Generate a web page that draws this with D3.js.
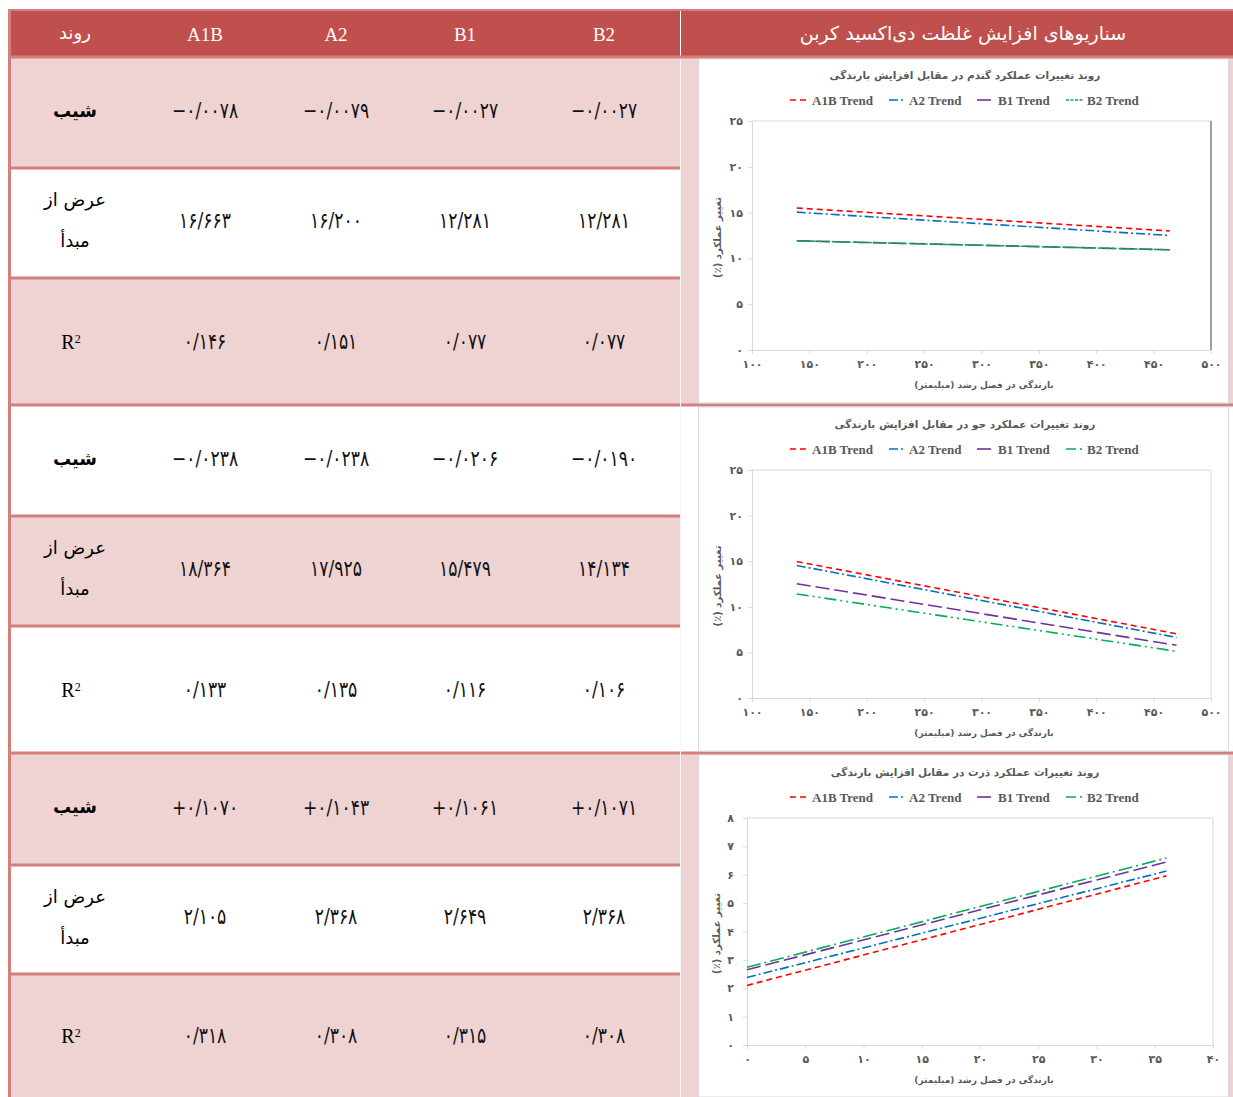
<!DOCTYPE html>
<html>
<head>
<meta charset="utf-8">
<script src="https://cdn.jsdelivr.net/npm/d3@7"></script>
<style>
body { margin: 0; background: #fff; }
svg { display: block; }
</style>
</head>
<body>
<svg width="1233" height="1097"></svg>
<script>
// ---- data ----
var scenarios = ["A1B", "A2", "B1", "B2"];
var rowNames = ["شیب", "عرض از", "R"];

var wheatSlope = ["−۰/۰۰۷۸", "−۰/۰۰۷۹", "−۰/۰۰۲۷", "−۰/۰۰۲۷"];
var wheatIntercept = ["۱۶/۶۶۳", "۱۶/۲۰۰", "۱۲/۲۸۱", "۱۲/۲۸۱"];
var wheatR2 = ["۰/۱۴۶", "۰/۱۵۱", "۰/۰۷۷", "۰/۰۷۷"];

var barleySlope = ["−۰/۰۲۳۸", "−۰/۰۲۳۸", "−۰/۰۲۰۶", "−۰/۰۱۹۰"];
var barleyIntercept = ["۱۸/۳۶۴", "۱۷/۹۲۵", "۱۵/۴۷۹", "۱۴/۱۳۴"];
var barleyR2 = ["۰/۱۳۳", "۰/۱۳۵", "۰/۱۱۶", "۰/۱۰۶"];

var cornSlope = ["+۰/۱۰۷۰", "+۰/۱۰۴۳", "+۰/۱۰۶۱", "+۰/۱۰۷۱"];
var cornIntercept = ["۲/۱۰۵", "۲/۳۶۸", "۲/۶۴۹", "۲/۳۶۸"];
var cornR2 = ["۰/۳۱۸", "۰/۳۰۸", "۰/۳۱۵", "۰/۳۰۸"];

// trend line end points
var wheatRain = [139, 464];
var wheatA1B = [15.5, 13.0];
var wheatA2 = [15.05, 12.5];
var wheatB1 = [11.92, 10.94];
var wheatB2 = [11.92, 10.94];

var barleyRain = [139, 470];
var barleyA1B = [14.96, 7.04];
var barleyA2 = [14.53, 6.64];
var barleyB1 = [12.53, 5.78];
var barleyB2 = [11.41, 5.12];

var cornRain = [0, 36];
var cornA1B = [2.10, 5.96];
var cornA2 = [2.38, 6.13];
var cornB1 = [2.65, 6.45];
var cornB2 = [2.74, 6.59];

var rainTicks = [100, 150, 200, 250, 300, 350, 400, 450, 500];
var yieldTicks = [0, 5, 10, 15, 20, 25];
var cornRainTicks = [0, 5, 10, 15, 20, 25, 30, 35, 40];
var cornYieldTicks = [0, 1, 2, 3, 4, 5, 6, 7, 8];

var headerTitle = "سناریوهای افزایش غلظت دی‌اکسید کربن";
var chartTitles = [
    "روند تغییرات عملکرد گندم در مقابل افزایش بارندگی",
    "روند تغییرات عملکرد جو در مقابل افزایش بارندگی",
    "روند تغییرات عملکرد ذرت در مقابل افزایش بارندگی"
];
var xTitle = "بارندگی در فصل رشد (میلیمتر)";
var yTitle = "تغییر عملکرد (٪)";

// ---- layout ----
var svg = d3.select("svg");
var pink = "#efd3d3",
    red = "#c0504d",
    rule = "#d47f7c",
    gray = "#595959";
var colX = [75, 205, 336, 465, 604];
var sections = [
    {edges: [57, 168, 278, 405], fills: [pink, "#fff", pink], side: pink,
     rows: [wheatSlope, wheatIntercept, wheatR2]},
    {edges: [405, 516, 626, 753], fills: ["#fff", pink, "#fff"], side: "#fff",
     rows: [barleySlope, barleyIntercept, barleyR2]},
    {edges: [753, 865, 974, 1097], fills: [pink, "#fff", pink], side: pink,
     rows: [cornSlope, cornIntercept, cornR2]}
];

function fa(n) {
    return String(n).replace(/\d/g, function(d) { return "۰۱۲۳۴۵۶۷۸۹"[d]; });
}

// header
svg.append("rect").attr("x", 9).attr("y", 9).attr("width", 1224).attr("height", 48).attr("fill", red);
svg.append("line").attr("x1", 9).attr("x2", 1233).attr("y1", 10).attr("y2", 10)
    .attr("stroke", rule).attr("stroke-width", 2);
svg.append("line").attr("x1", 680.5).attr("x2", 680.5).attr("y1", 11).attr("y2", 57)
    .attr("stroke", "#fff").attr("stroke-width", 1);

svg.append("text").attr("x", colX[0]).attr("y", 33).attr("dy", "0.35em")
    .attr("text-anchor", "middle").attr("fill", "#fff")
    .style("font", "18px 'DejaVu Sans'").text("روند");
svg.selectAll(".hdr").data(scenarios).enter().append("text")
    .attr("class", "hdr")
    .attr("x", function(d, i) { return colX[i + 1]; })
    .attr("y", 34).attr("dy", "0.35em")
    .attr("text-anchor", "middle").attr("fill", "#fff")
    .style("font", "19px 'Liberation Serif'")
    .text(function(d) { return d; });
svg.append("text").attr("x", 963).attr("y", 33).attr("dy", "0.35em")
    .attr("text-anchor", "middle").attr("fill", "#fff")
    .attr("direction", "rtl")
    .style("font", "19px 'DejaVu Sans'").text(headerTitle);

// body rows
sections.forEach(function(s, si) {
    svg.append("rect").attr("x", 680).attr("y", s.edges[0]).attr("width", 553)
        .attr("height", s.edges[3] - s.edges[0]).attr("fill", s.side);
    for (var r = 0; r < 3; r++) {
        var y0 = s.edges[r], y1 = s.edges[r + 1],
            cy = (y0 + y1) / 2 + (r == 0 ? -2 : r == 1 ? -3 : 0);
        svg.append("rect").attr("x", 10).attr("y", y0).attr("width", 670)
            .attr("height", y1 - y0).attr("fill", s.fills[r]);
        if (r == 0) {
            svg.append("text").attr("x", colX[0]).attr("y", cy).attr("dy", "0.35em")
                .attr("text-anchor", "middle").attr("fill", "#000")
                .style("font", "bold 18px 'DejaVu Sans'").text(rowNames[0]);
        } else if (r == 1) {
            svg.append("text").attr("x", colX[0]).attr("y", cy - 20).attr("dy", "0.35em")
                .attr("text-anchor", "middle").attr("direction", "rtl")
                .style("font", "18px 'DejaVu Sans'").text(rowNames[1]);
            svg.append("text").attr("x", colX[0]).attr("y", cy + 21).attr("dy", "0.35em")
                .attr("text-anchor", "middle").attr("direction", "rtl")
                .style("font", "18px 'DejaVu Sans'").text("مبدأ");
        } else {
            var t = svg.append("text").attr("x", colX[0] - 4).attr("y", cy).attr("dy", "0.35em")
                .attr("text-anchor", "middle")
                .style("font", "20px 'Liberation Serif'").text(rowNames[2]);
            t.append("tspan").attr("dy", "-0.45em").style("font-size", "12px").text("2");
        }
        svg.selectAll(".v" + si + r).data(s.rows[r]).enter().append("text")
            .attr("transform", function(d, i) {
                return "translate(" + colX[i + 1] + "," + cy + ") scale(0.78,1)";
            })
            .attr("dy", "0.35em")
            .attr("text-anchor", "middle").attr("fill", "#111")
            .style("font", "22px 'DejaVu Sans'")
            .text(function(d) { return d; });
    }
    // rules between rows (left part only)
    [s.edges[1], s.edges[2]].forEach(function(yy) {
        svg.append("line").attr("x1", 9).attr("x2", 680).attr("y1", yy).attr("y2", yy)
            .attr("stroke", rule).attr("stroke-width", 3);
    });
});
[57, 405, 753].forEach(function(yy) {
    svg.append("line").attr("x1", 9).attr("x2", 1233).attr("y1", yy).attr("y2", yy)
        .attr("stroke", rule).attr("stroke-width", 3);
});
svg.append("line").attr("x1", 9.5).attr("x2", 9.5).attr("y1", 9).attr("y2", 1097)
    .attr("stroke", rule).attr("stroke-width", 3);
svg.append("line").attr("x1", 680.5).attr("x2", 680.5).attr("y1", 59).attr("y2", 1097)
    .attr("stroke", "#f4f4f4").attr("stroke-width", 1);

// ---- charts ----
var colors = {A1B: "#ff0000", A2: "#0070c0", B1: "#7030a0", B2: "#00b050"};
var legendPos = [[790, 812], [889, 909], [977, 998], [1066, 1087]];

function drawChart(cfg) {
    var g = svg.append("g");
    g.append("rect").attr("x", 698.5).attr("y", cfg.box[0]).attr("width", 530)
        .attr("height", cfg.box[1] - cfg.box[0]).attr("fill", "#fff")
        .attr("stroke", "#d9d9d9");

    var x = d3.scaleLinear().domain(cfg.xDomain).range([cfg.left, cfg.right]),
        y = d3.scaleLinear().domain(cfg.yDomain).range([cfg.bottom, cfg.top]);

    g.append("text").attr("x", 965).attr("y", cfg.titleY).attr("dy", "0.35em")
        .attr("text-anchor", "middle").attr("direction", "rtl").attr("fill", gray)
        .style("font", "bold 10.5px 'DejaVu Sans'").text(cfg.title);

    // plot frame
    g.append("line").attr("x1", cfg.left).attr("x2", cfg.right)
        .attr("y1", cfg.top).attr("y2", cfg.top).attr("stroke", "#d9d9d9");
    g.append("line").attr("x1", cfg.right).attr("x2", cfg.right)
        .attr("y1", cfg.top).attr("y2", cfg.bottom)
        .attr("stroke", cfg.darkRight ? "#7f7f7f" : "#d9d9d9")
        .attr("stroke-width", cfg.darkRight ? 1.5 : 1);

    var xa = g.append("g").attr("transform", "translate(0," + cfg.bottom + ")")
        .call(d3.axisBottom(x).tickValues(cfg.xTicks).tickSize(4).tickPadding(6).tickFormat(fa));
    var ya = g.append("g").attr("transform", "translate(" + cfg.left + ",0)")
        .call(d3.axisLeft(y).tickValues(cfg.yTicks).tickSize(4).tickPadding(cfg.yPad).tickFormat(fa));
    [xa, ya].forEach(function(a) {
        a.select(".domain").attr("stroke", "#d9d9d9");
        a.selectAll(".tick line").attr("stroke", "#d9d9d9");
        a.selectAll(".tick text").attr("fill", gray)
            .style("font", "bold 11px 'DejaVu Sans'");
    });

    g.append("text").attr("x", 984).attr("y", cfg.bottom + 35).attr("dy", "0.35em")
        .attr("text-anchor", "middle").attr("direction", "rtl").attr("fill", gray)
        .style("font", "bold 9px 'DejaVu Sans'").text(xTitle);
    g.append("text")
        .attr("transform", "translate(" + cfg.yTitleX + "," + ((cfg.top + cfg.bottom) / 2 + 2) + ") rotate(-90)")
        .attr("dy", "0.35em")
        .attr("text-anchor", "middle").attr("direction", "rtl").attr("fill", gray)
        .style("font", "bold 10px 'DejaVu Sans'").text(yTitle);

    var line = d3.line()
        .x(function(d) { return x(d[0]); })
        .y(function(d) { return y(d[1]); });

    cfg.series.forEach(function(s, i) {
        g.append("path")
            .datum(d3.zip(cfg.rain, s.values))
            .attr("d", line)
            .attr("fill", "none")
            .attr("stroke", colors[s.id])
            .attr("stroke-width", 1.6)
            .attr("stroke-dasharray", s.dash);

        var lp = legendPos[i];
        g.append("line").attr("x1", lp[0]).attr("x2", lp[1] - 3)
            .attr("y1", cfg.legendY).attr("y2", cfg.legendY)
            .attr("stroke", colors[s.id]).attr("stroke-width", 1.6)
            .attr("stroke-dasharray", s.legendDash || s.dash);
        g.append("text").attr("x", lp[1]).attr("y", cfg.legendY).attr("dy", "0.35em")
            .attr("fill", gray)
            .style("font", "bold 13px 'Liberation Serif'")
            .text(s.id + " Trend");
    });
}

drawChart({
    box: [59, 403], title: chartTitles[0], titleY: 75, legendY: 100,
    left: 752, right: 1211, top: 121, bottom: 350, yPad: 5, yTitleX: 717,
    xDomain: [100, 500], yDomain: [0, 25], xTicks: rainTicks, yTicks: yieldTicks,
    darkRight: true, rain: wheatRain,
    series: [
        {id: "A1B", values: wheatA1B, dash: "6,4"},
        {id: "A2", values: wheatA2, dash: "9,3,2,3"},
        {id: "B1", values: wheatB1, dash: "14,5"},
        {id: "B2", values: wheatB2, dash: "5,2", legendDash: "3,1.5"}
    ]
});

drawChart({
    box: [407, 751], title: chartTitles[1], titleY: 424, legendY: 449,
    left: 752, right: 1211, top: 470, bottom: 698, yPad: 5, yTitleX: 717,
    xDomain: [100, 500], yDomain: [0, 25], xTicks: rainTicks, yTicks: yieldTicks,
    rain: barleyRain,
    series: [
        {id: "A1B", values: barleyA1B, dash: "6,4"},
        {id: "A2", values: barleyA2, dash: "9,3,2,3"},
        {id: "B1", values: barleyB1, dash: "14,5"},
        {id: "B2", values: barleyB2, dash: "12,4,2,4,2,4", legendDash: "10,4,2,4"}
    ]
});

drawChart({
    box: [755, 1097], title: chartTitles[2], titleY: 772, legendY: 797,
    left: 747, right: 1213, top: 818, bottom: 1045, yPad: 9, yTitleX: 716,
    xDomain: [0, 40], yDomain: [0, 8], xTicks: cornRainTicks, yTicks: cornYieldTicks,
    rain: cornRain,
    series: [
        {id: "A1B", values: cornA1B, dash: "6,4"},
        {id: "A2", values: cornA2, dash: "9,3,2,3"},
        {id: "B1", values: cornB1, dash: "14,5"},
        {id: "B2", values: cornB2, dash: "14,4,2,4", legendDash: "10,4,2,4"}
    ]
});
</script>
</body>
</html>
